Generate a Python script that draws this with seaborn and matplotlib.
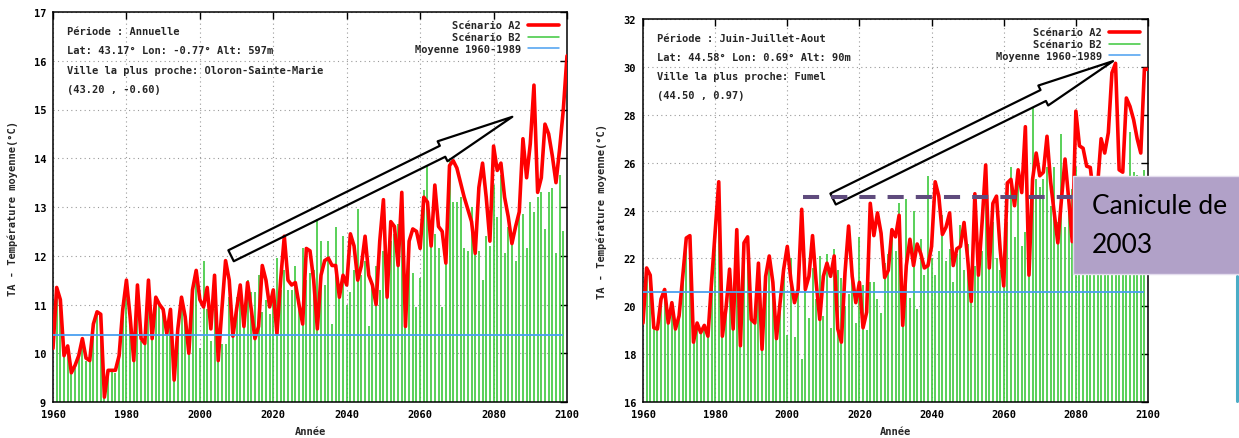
import numpy as np
import matplotlib.pyplot as plt
import seaborn as sns
from matplotlib.patches import FancyArrowPatch, Rectangle
from matplotlib.lines import Line2D

# ---- data ----
years = np.arange(1960, 2101)
years_b2 = np.arange(1961, 2100)

# Annuelle - Oloron-Sainte-Marie
a2_annual = [
    10.1, 11.35, 11.1, 9.95, 10.15, 9.6, 9.75, 9.95, 10.3, 9.9,
    9.85, 10.6, 10.85, 10.8, 9.1, 9.65, 9.65, 9.65, 9.95, 10.9,
    11.5, 10.75, 9.85, 11.4, 10.3, 10.2, 11.5, 10.3, 11.15, 11.0,
    10.9, 10.4, 10.9, 9.45, 10.5, 11.15, 10.75, 10.0, 11.3, 11.7,
    11.1, 10.95, 11.35, 10.5, 11.6, 9.85, 10.9, 11.9, 11.5, 10.35,
    10.9, 11.4, 10.55, 11.45, 10.9, 10.3, 10.55, 11.8, 11.5, 10.95,
    11.3, 10.4, 11.5, 12.4, 11.5, 11.4, 11.45, 11.0, 10.6, 12.15,
    12.1, 11.5, 10.5, 11.6, 11.9, 11.95, 11.8, 11.8, 11.15, 11.6,
    11.4, 12.45, 12.2, 11.5, 11.8, 12.4, 11.6, 11.4, 11.0, 12.3,
    13.15, 11.15, 12.7, 12.6, 11.8, 13.3, 10.55, 12.3, 12.55, 12.5,
    12.15, 13.2, 13.1, 12.2, 13.45, 12.6, 12.5, 11.85, 13.85, 13.95,
    13.8, 13.5, 13.2, 12.95, 12.7, 12.05, 13.4, 13.9, 13.2, 12.3,
    14.25, 13.75, 13.9, 13.2, 12.8, 12.25, 12.6, 12.9, 14.4, 13.6,
    14.3, 15.5, 13.3, 13.6, 14.7, 14.5, 14.05, 13.5, 14.2, 15.0,
    16.1,
]
b2_annual = [
    11.3, 11.05, 9.95, 10.1, 9.6, 9.7, 9.95, 10.25, 9.85,
    9.85, 10.6, 10.8, 10.75, 9.1, 9.6, 9.65, 9.6, 9.95, 10.85,
    11.45, 10.7, 9.85, 11.35, 10.25, 10.2, 11.45, 10.3, 11.1, 11.0,
    10.85, 10.4, 10.85, 9.45, 10.5, 11.1, 10.7, 10.0, 11.25, 11.65,
    10.1, 11.9, 10.9, 10.25, 10.9, 10.05, 10.2, 10.2, 11.15, 10.4,
    11.15, 11.2, 10.7, 11.5, 11.25, 11.25, 11.6, 10.85, 11.1, 10.8,
    11.2, 11.95, 11.3, 11.7, 11.3, 11.3, 11.8, 11.0, 12.15, 11.5,
    11.65, 11.7, 12.75, 12.3, 11.4, 12.3, 10.6, 12.6, 11.2, 12.4,
    11.0, 11.25, 11.7, 12.95, 11.6, 11.9, 10.55, 11.4, 11.8, 11.3,
    12.1, 11.6, 12.3, 12.45, 12.65, 12.5, 11.2, 12.0, 11.65, 10.95,
    11.55, 13.35, 13.85, 12.2, 12.45, 12.15, 10.95, 12.2, 13.95, 13.1,
    13.1, 13.2, 12.15, 12.1, 13.0, 12.3, 12.1, 11.5, 12.4, 12.2,
    13.45, 12.8, 13.65, 12.05, 12.6, 12.3, 11.9, 12.95, 12.85, 12.15,
    13.1, 12.9, 13.2, 13.3, 12.55, 13.3, 13.4, 12.05, 13.65, 12.5,
]
mean_annual = 10.37

# Juin-Juillet-Aout - Fumel
a2_summer = [
    19.3, 21.6, 21.3, 19.1, 19.05, 20.3, 20.7, 19.3, 20.15, 19.05,
    19.6, 21.25, 22.85, 22.95, 18.5, 19.3, 18.9, 19.2, 18.75, 21.0,
    23.1, 25.2, 18.75, 19.9, 21.55, 19.05, 23.2, 18.35, 22.65, 22.9,
    19.45, 19.3, 21.8, 18.2, 21.25, 22.1, 21.0, 18.65, 20.15, 21.55,
    22.5, 21.1, 20.15, 20.7, 24.05, 20.7, 21.25, 22.95, 21.0, 19.45,
    21.25, 21.8, 21.25, 22.1, 19.05, 18.5, 21.4, 23.35, 21.25, 20.15,
    21.0, 19.1, 19.75, 24.3, 22.95, 23.9, 23.05, 21.2, 21.5, 23.2,
    22.9, 23.8, 19.2, 21.7, 22.8, 21.7, 22.6, 22.2, 21.6, 21.7,
    22.5, 25.2, 24.6, 23.0, 23.3, 23.9, 21.7, 22.4, 22.5, 23.5,
    22.0, 20.2, 24.7, 21.3, 23.5, 25.9, 21.6, 24.3, 24.6, 22.4,
    20.85, 25.15, 25.3, 24.2, 25.7, 24.75, 27.5, 21.3, 25.3, 26.4,
    25.45, 25.6, 27.1, 25.2, 23.9, 22.65, 24.45, 26.15, 24.5, 22.7,
    28.15, 26.7, 26.6, 25.85, 25.8, 24.5, 25.0, 27.0, 26.4, 27.25,
    29.75, 30.15, 25.7, 25.6, 28.7, 28.35, 27.8, 27.0, 26.4, 29.9,
    29.9,
]
b2_summer = [
    21.5, 21.2, 19.1, 19.0, 20.2, 20.6, 19.3, 20.1, 19.0,
    19.6, 21.2, 22.7, 22.8, 18.5, 19.3, 18.9, 19.2, 18.7, 21.0,
    23.0, 24.4, 18.7, 19.9, 21.5, 19.0, 23.1, 18.4, 22.6, 22.8,
    19.4, 19.3, 21.7, 18.3, 21.2, 22.0, 21.0, 18.7, 20.1, 21.5,
    18.8, 22.0, 18.7, 20.8, 17.8, 22.0, 19.5, 21.6, 20.3, 22.1,
    19.6, 22.2, 19.1, 22.4, 21.5, 21.2, 20.0, 20.5, 21.9, 19.3,
    22.9, 20.9, 19.0, 21.0, 21.0, 20.3, 19.7, 21.8, 22.2, 23.0,
    22.3, 24.3, 20.4, 24.5, 20.35, 24.0, 19.9, 22.8, 21.3, 25.45,
    22.0, 21.3, 22.3, 23.8, 21.9, 22.4, 21.0, 22.2, 23.4, 21.5,
    22.6, 20.5, 21.7, 22.5, 22.3, 25.05, 22.0, 23.5, 22.0, 21.5,
    21.1, 23.5, 25.8, 22.9, 25.2, 22.5, 23.1, 22.0, 28.3, 25.3,
    25.0, 25.3, 25.8, 24.2, 25.8, 23.5, 27.2, 23.3, 24.7, 24.9,
    25.8, 24.2, 24.5, 25.0, 24.0, 23.8, 24.8, 25.2, 24.3, 25.4,
    24.6, 25.0, 24.0, 25.3, 24.4, 27.3, 25.6, 25.5, 24.8, 25.7,
]
mean_summer = 20.6
canicule_2003 = 24.55

info_annual = ["Période : Annuelle",
               "Lat: 43.17° Lon: -0.77° Alt: 597m",
               "Ville la plus proche: Oloron-Sainte-Marie",
               "(43.20 , -0.60)"]
info_summer = ["Période : Juin-Juillet-Aout",
               "Lat: 44.58° Lon: 0.69° Alt: 90m",
               "Ville la plus proche: Fumel",
               "(44.50 , 0.97)"]

# ---- style ----
sns.set_theme(style="white")
plt.rcParams['font.family'] = ['DejaVu Sans Mono', 'DejaVu Sans']
plt.rcParams['font.weight'] = 'bold'
FS = 7.5
RED = '#ff0000'
GREEN = '#3cc83c'
BLUE = '#4a9ff0'

fig = plt.figure(figsize=(12.39, 4.39), dpi=100)
ax1 = fig.add_axes([53 / 1239, 36 / 439, 514 / 1239, 390 / 439])
ax2 = fig.add_axes([643 / 1239, 36 / 439, 505 / 1239, 383 / 439])


def draw_panel(ax, a2, b2, mean, ylim, ystep, info, lab_x):
    ax.vlines(years_b2, ylim[0], b2, color=GREEN, lw=1.2, zorder=2)
    sns.lineplot(x=years, y=a2, ax=ax, color=RED, linewidth=2.6, zorder=3)
    ax.hlines(mean, years[0], years_b2[-1], color=BLUE, lw=1.3, zorder=4)
    ax.set_xlim(1960, 2100)
    ax.set_ylim(*ylim)
    ax.set_xticks(np.arange(1960, 2101, 20))
    ax.set_yticks(np.arange(ylim[0], ylim[1] + 0.1, ystep))
    ax.grid(True, linestyle=(0, (1, 3)), color='#9a9a9a', lw=0.8)
    ax.tick_params(direction='in', top=True, right=True, length=5, width=1,
                   labelsize=FS, pad=5, colors='black')
    for lab in ax.get_xticklabels() + ax.get_yticklabels():
        lab.set_fontweight('bold')
    for s in ax.spines.values():
        s.set_color('black')
        s.set_linewidth(1.1)
    ax.set_xlabel('Année', fontsize=FS, fontweight='bold')
    ax.set_ylabel('TA - Température moyenne(°C)', fontsize=FS, fontweight='bold')
    ax.xaxis.set_label_coords(0.5, -0.062)
    ax.yaxis.set_label_coords(lab_x, 0.5)
    for i, line in enumerate(info):
        ax.text(0.028, 0.951 - i * 0.0495, line, transform=ax.transAxes,
                fontsize=FS, fontweight='bold', va='center', ha='left')
    handles = [Line2D([], [], color=RED, lw=2.6),
               Line2D([], [], color=GREEN, lw=1.1),
               Line2D([], [], color=BLUE, lw=1.1)]
    leg = ax.legend(handles, ['Scénario A2', 'Scénario B2', 'Moyenne 1960-1989'],
                    loc='upper right', frameon=False, markerfirst=False,
                    prop={'family': 'DejaVu Sans Mono', 'weight': 'bold', 'size': FS},
                    handlelength=2.9, handletextpad=0.7, labelspacing=0.18,
                    borderaxespad=0.5, borderpad=0.3)
    leg.set_zorder(6)


draw_panel(ax1, a2_annual, b2_annual, mean_annual, (9, 17), 1, info_annual, -0.068)
draw_panel(ax2, a2_summer, b2_summer, mean_summer, (16, 32), 2, info_summer, -0.071)

# hollow arrows
style = "simple,head_length=56,head_width=16,tail_width=8.8"
for ax, start, end in [(ax1, (2008.5, 12.0), (2085.1, 14.85)),
                       (ax2, (2012.7, 24.48), (2090.3, 30.24))]:
    arr = FancyArrowPatch(start, end, arrowstyle=style, mutation_scale=1,
                          shrinkA=0, shrinkB=0, facecolor='none',
                          edgecolor='black', lw=1.6, zorder=5)
    ax.add_patch(arr)

# 2003 heatwave level
ax2.hlines(canicule_2003, 2004.4, 2082, color='#5f4b7d', lw=2.9,
           linestyles=(0, (4, 3)), zorder=5)

# slide overlay
fig.add_artist(Rectangle((1073 / 1239, (439 - 275) / 439), 170 / 1239, 98 / 439,
                         transform=fig.transFigure, facecolor='#b1a1c8',
                         edgecolor='#e4ddee', lw=1, zorder=10))
fig.text(1092 / 1239, (439 - 214) / 439, 'Canicule de', family='Lato',
         fontweight='normal', fontsize=19, color='black', zorder=11)
fig.text(1092 / 1239, (439 - 253) / 439, '2003', family='Lato',
         fontweight='normal', fontsize=19, color='black', zorder=11)
fig.add_artist(Line2D([1237 / 1239, 1237 / 1239], [37 / 439, 162 / 439],
                      transform=fig.transFigure, color='#4bacc6', lw=2.2))

fig.savefig('out.png', dpi=100)
